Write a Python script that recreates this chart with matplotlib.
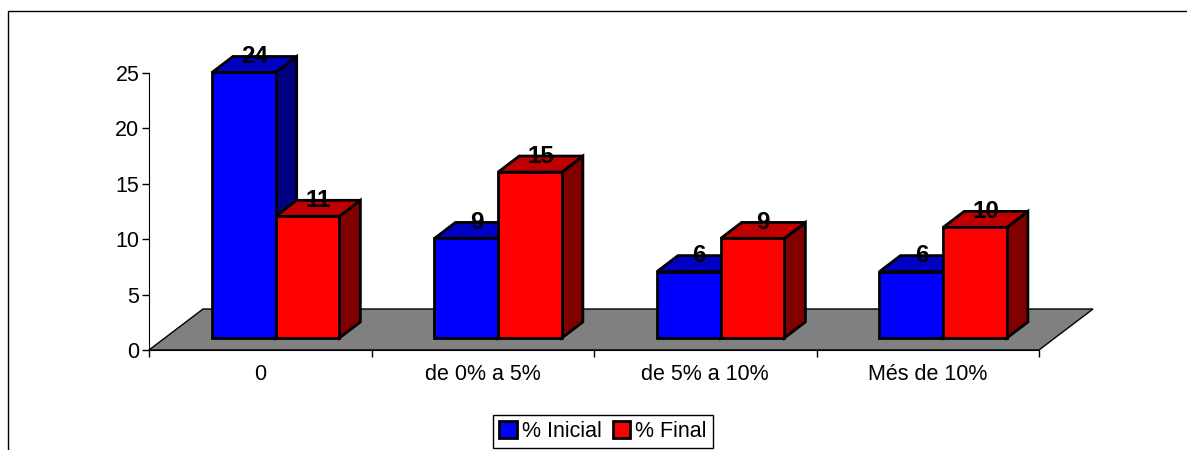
import matplotlib
matplotlib.use('Agg')
import matplotlib.pyplot as plt
from matplotlib.lines import Line2D
from matplotlib.patches import Patch, Polygon

plt.rcParams['font.family'] = ['Liberation Sans', 'DejaVu Sans']

categories = ['0', 'de 0% a 5%', 'de 5% a 10%', 'Més de 10%']
inicial = [24, 9, 6, 6]
final = [11, 15, 9, 10]
y_ticks = [0, 5, 10, 15, 20, 25]

W, H = 1187, 450
fig = plt.figure(figsize=(W / 100, H / 100), dpi=100)
ax = fig.add_axes([149 / W, (H - 350) / H, 890 / W, 277 / H])
ax.set_xlim(0, 4)
ax.set_ylim(0, 25)

# pixel sizes turned into data units
px_x = 4 / 890
px_y = 25 / 277
depth_x = 21 * px_x
depth_y = 16 * px_y
base = 12 * px_y
floor_dx = 54 * px_x
floor_dy = 41 * px_y
bar_w = 63.7 * px_x
bar_start = 0.283


def draw_box(x, value, front, top, side):
    y0, y1 = base, base + value * 0.9985
    x0, x1 = x, x + bar_w
    style = dict(edgecolor='black', linewidth=2.0, joinstyle='miter', clip_on=False, zorder=3)
    ax.add_patch(Polygon([(x1, y0), (x1 + depth_x, y0 + depth_y), (x1 + depth_x, y1 + depth_y), (x1, y1)],
                         facecolor=side, **style))
    ax.add_patch(Polygon([(x0, y1), (x1, y1), (x1 + depth_x, y1 + depth_y), (x0 + depth_x, y1 + depth_y)],
                         facecolor=top, **style))
    ax.add_patch(Polygon([(x0, y0), (x1, y0), (x1, y1), (x0, y1)], facecolor=front, **style))
    ax.text(x + bar_w / 2 + depth_x * 0.5, y1 + depth_y, str(value), ha='center', va='center',
            fontsize=17.5, fontweight='bold', color='black', zorder=6)


# Floor
ax.add_patch(Polygon([(0, 0), (4, 0), (4 + floor_dx, floor_dy), (floor_dx, floor_dy)],
                     facecolor='#808080', edgecolor='black', linewidth=1.0, clip_on=False, zorder=1))

# Bars
for i in range(len(categories)):
    draw_box(i + bar_start, inicial[i], '#0000ff', '#0000c0', '#000080')
    draw_box(i + bar_start + bar_w, final[i], '#ff0000', '#c00000', '#800000')

# Axes
for s in ['top', 'right']:
    ax.spines[s].set_visible(False)
ax.set_yticks(y_ticks)
ax.set_xticks(range(len(categories) + 1))
ax.set_xticklabels([''] * (len(categories) + 1))
ax.tick_params(axis='y', length=5, width=1, labelsize=15.5, pad=2)
ax.tick_params(axis='x', length=5, width=1)
for i, c in enumerate(categories):
    ax.text(i + 0.5, -24.5 * px_y, c, ha='center', va='center', fontsize=15.5)

# Legend
handles = [Patch(facecolor='#0000ff', edgecolor='black', linewidth=2, label='% Inicial'),
           Patch(facecolor='#ff0000', edgecolor='black', linewidth=2, label='% Final')]
leg = fig.legend(handles=handles, ncol=2, loc='center', bbox_to_anchor=(603 / W, (H - 431.5) / H),
                 fontsize=15.5, frameon=True, fancybox=False, edgecolor='black', framealpha=1,
                 handlelength=0.8, handleheight=0.8, handletextpad=0.25, columnspacing=0.5,
                 borderpad=0.3, borderaxespad=0)
leg.get_frame().set_linewidth(1.0)

# Outer border, open on the right and at the bottom
fig.add_artist(Line2D([7.5 / W, 7.5 / W, 1], [0, (H - 10.5) / H, (H - 10.5) / H], color='black', linewidth=1.0))

fig.savefig('out.png', dpi=100)
